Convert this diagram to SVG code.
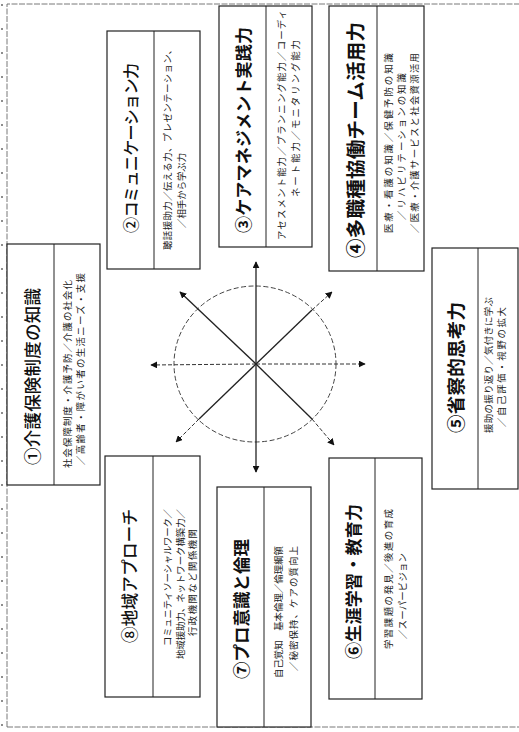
<svg xmlns="http://www.w3.org/2000/svg" width="519" height="732" viewBox="0 0 519 732">
<style>
.frame{fill:none;stroke:#555;stroke-width:0.8;stroke-dasharray:6 1.5}
.box{fill:#fff;stroke:#222;stroke-width:1.2}
.div{stroke:#222;stroke-width:1}
.t{font-family:"Noto Sans CJK JP","Noto Sans",sans-serif;font-size:17px;fill:#111;dominant-baseline:central}
.b{font-weight:700}
.m{font-weight:500}
.d{font-family:"Noto Sans CJK JP","Noto Sans",sans-serif;font-size:9.4px;fill:#222;dominant-baseline:central}
.ln{stroke:#222;stroke-width:1.3;fill:none}
.dl{stroke:#333;stroke-width:1;fill:none;stroke-dasharray:4 2}
.circ{fill:none;stroke:#444;stroke-width:1;stroke-dasharray:5 2.5}
</style>
<defs>
<marker id="ah" viewBox="0 0 10 10" refX="9" refY="5" markerWidth="7" markerHeight="7" markerUnits="userSpaceOnUse" orient="auto">
<path d="M0,0 L10,5 L0,10 z" fill="#111"/>
</marker>
</defs>
<rect width="519" height="732" fill="#fff"/>
<path class="frame" d="M7,727 V4 H519 M7,727 H519"/>
<line x1="2" y1="4" x2="2" y2="727" stroke="#444" stroke-width="1.2" stroke-dasharray="2 22"/>

<g id="connectors">
<ellipse class="circ" cx="255" cy="364" rx="81" ry="78"/>
<line class="ln" x1="256" y1="364" x2="256" y2="262" marker-end="url(#ah)"/>
<line class="ln" x1="256" y1="364" x2="256" y2="472" marker-end="url(#ah)"/>
<line class="dl" x1="256" y1="364" x2="151" y2="365" marker-end="url(#ah)"/>
<line class="dl" x1="256" y1="364" x2="365" y2="364" marker-end="url(#ah)"/>
<line class="ln" x1="256" y1="364" x2="180" y2="292" marker-end="url(#ah)"/>
<line class="ln" x1="256" y1="364" x2="312" y2="310"/>
<line class="dl" x1="312" y1="310" x2="332" y2="292" marker-end="url(#ah)"/>
<line class="ln" x1="256" y1="364" x2="199" y2="419"/>
<line class="dl" x1="199" y1="419" x2="176" y2="442" marker-end="url(#ah)"/>
<line class="ln" x1="256" y1="364" x2="312" y2="419"/>
<line class="dl" x1="312" y1="419" x2="334" y2="445" marker-end="url(#ah)"/>
</g>

<g id="node1">
<rect class="box" x="7" y="244" width="93" height="241"/>
<line class="div" x1="54" y1="244" x2="54" y2="485"/>
<text class="t m" style="font-size:17.5px" transform="translate(31 465) rotate(-90)" textLength="177">①介護保険制度の知識</text>
<text class="d" transform="translate(67 468) rotate(-90)" textLength="188">社会保障制度・介護予防／介護の社会化</text>
<text class="d" transform="translate(80 465) rotate(-90)" textLength="192">／高齢者・障がい者の生活ニーズ・支援</text>
</g>

<g id="node2">
<rect class="box" x="107" y="31" width="93" height="238"/>
<line class="div" x1="154" y1="31" x2="154" y2="269"/>
<text class="t m" style="font-size:16px" transform="translate(130 233) rotate(-90)" textLength="170">②コミュニケーション力</text>
<text class="d" transform="translate(167 250) rotate(-90)" textLength="205">聴話援助力／伝える力、プレゼンテーション、</text>
<text class="d" transform="translate(181 228) rotate(-90)">／相手から学ぶ力</text>
</g>

<g id="node3">
<rect class="box" x="219" y="6" width="93" height="241"/>
<line class="div" x1="266" y1="6" x2="266" y2="247"/>
<text class="t b" transform="translate(242 233) rotate(-90)" textLength="206">③ケアマネジメント実践力</text>
<text class="d" transform="translate(281 240) rotate(-90)" textLength="230">アセスメント能力／プランニング能力／コーディ</text>
<text class="d" transform="translate(295 197) rotate(-90)" textLength="157">ネート能力／モニタリング能力</text>
</g>

<g id="node4">
<rect class="box" x="329" y="6" width="95" height="265"/>
<line class="div" x1="377" y1="6" x2="377" y2="271"/>
<text class="t b" style="font-size:19.5px" transform="translate(354 258) rotate(-90)" textLength="236">④多職種協働チーム活用力</text>
<text class="d" transform="translate(388 233) rotate(-90)" textLength="180">医療・看護の知識／保健予防の知識</text>
<text class="d" transform="translate(401 220) rotate(-90)" textLength="147">／リハビリテーションの知識</text>
<text class="d" transform="translate(414 233) rotate(-90)" textLength="180">／医療・介護サービスと社会資源活用</text>
</g>

<g id="node5">
<rect class="box" x="432" y="248" width="86" height="241"/>
<line class="div" x1="478" y1="248" x2="478" y2="489"/>
<text class="t b" style="font-size:18.5px" transform="translate(455 433) rotate(-90)" textLength="131">⑤省察的思考力</text>
<text class="d" transform="translate(488 433) rotate(-90)" textLength="136">援助の振り返り／気付きに学ぶ</text>
<text class="d" transform="translate(501 427) rotate(-90)" textLength="120">／自己評価・視野の拡大</text>
</g>

<g id="node6">
<rect class="box" x="329" y="458" width="93" height="241"/>
<line class="div" x1="375" y1="458" x2="375" y2="699"/>
<text class="t b" transform="translate(352 659) rotate(-90)" textLength="155">⑥生涯学習・教育力</text>
<text class="d" transform="translate(388 649) rotate(-90)" textLength="140">学習課題の発見／後進の育成</text>
<text class="d" transform="translate(402 639) rotate(-90)" textLength="86">／スーパービジョン</text>
</g>

<g id="node7">
<rect class="box" x="217" y="487" width="94" height="240"/>
<line class="div" x1="264" y1="487" x2="264" y2="727"/>
<text class="t b" style="font-size:17.5px" transform="translate(240 679) rotate(-90)" textLength="140">⑦プロ意識と倫理</text>
<text class="d" transform="translate(278 678) rotate(-90)" textLength="132">自己覚知　基本倫理／倫理綱領</text>
<text class="d" transform="translate(293 671) rotate(-90)" textLength="125">／秘密保持、ケアの質向上</text>
</g>

<g id="node8">
<rect class="box" x="105" y="456" width="95" height="241"/>
<line class="div" x1="153" y1="456" x2="153" y2="697"/>
<text class="t m" style="font-size:16.5px" transform="translate(129 643) rotate(-90)" textLength="134">⑧地域アプローチ</text>
<text class="d" transform="translate(167 646) rotate(-90)" textLength="137">コミュニティソーシャルワーク／</text>
<text class="d" transform="translate(180 659) rotate(-90)" textLength="150">地域援助力、ネットワーク構築力／</text>
<text class="d" transform="translate(192 636) rotate(-90)" textLength="107">行政機関など関係機関</text>
</g>
</svg>
